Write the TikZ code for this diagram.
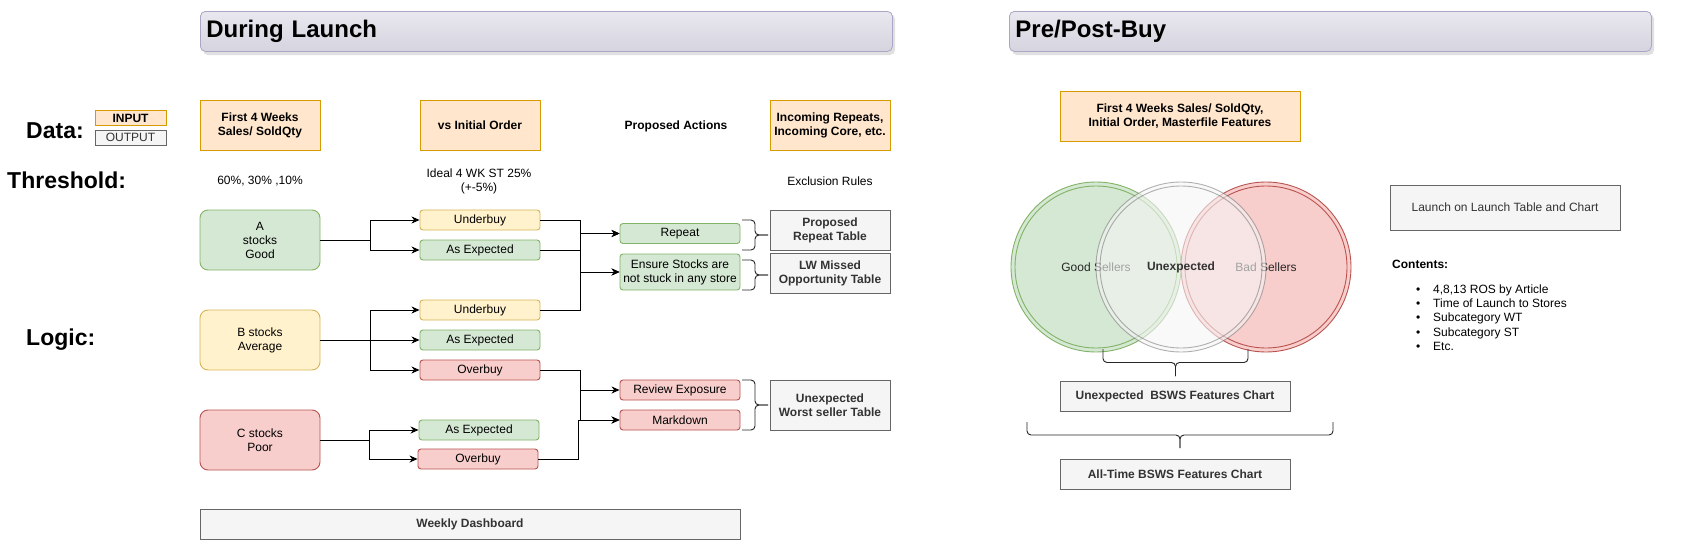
\documentclass[tikz,border=0pt]{standalone}
\usepackage{fontspec}
\setmainfont{Liberation Sans}
\usetikzlibrary{arrows.meta}
\definecolor{orgF}{HTML}{FFE6CC}\definecolor{orgS}{HTML}{D79B00}
\definecolor{grnF}{HTML}{D5E8D4}\definecolor{grnS}{HTML}{82B366}
\definecolor{ylwF}{HTML}{FFF2CC}\definecolor{ylwS}{HTML}{D6B656}
\definecolor{redF}{HTML}{F8CECC}\definecolor{redS}{HTML}{B85450}
\definecolor{gryF}{HTML}{F5F5F5}\definecolor{gryS}{HTML}{666666}\definecolor{gryT}{HTML}{333333}
\definecolor{hdrT}{HTML}{E9E8EF}\definecolor{hdrB}{HTML}{D5D4DF}\definecolor{hdrS}{HTML}{A9A7C6}
\newcommand\fnt{\fontsize{12}{14}\selectfont}
\newcommand\fbig{\fontsize{24}{28}\selectfont}
\newcommand\flbl{\fontsize{23}{27}\selectfont}
\newcommand\vbrc[4]{%
  \draw[brc] (#1,#2) -- ({(#1+#4)/2},#2) -- ({(#1+#4)/2},{(#2+#3)/2}) -- (#4,{(#2+#3)/2});
  \draw[brc] (#1,#3) -- ({(#1+#4)/2},#3) -- ({(#1+#4)/2},{(#2+#3)/2}) -- (#4,{(#2+#3)/2});}
\newcommand\hbrc[4]{%
  \draw[brc] (#2,#1) -- (#2,{(#1+#4)/2}) -- ({(#2+#3)/2},{(#1+#4)/2}) -- ({(#2+#3)/2},#4);
  \draw[brc] (#3,#1) -- (#3,{(#1+#4)/2}) -- ({(#2+#3)/2},{(#1+#4)/2}) -- ({(#2+#3)/2},#4);}
\begin{document}
\begin{tikzpicture}[x=1pt,y=-1pt,
  every node/.style={font=\fnt, inner sep=0pt, align=center},
  bx/.style={draw, line width=0.9pt, minimum width=120pt},
  org/.style={bx, fill=orgF, draw=orgS, font=\fnt\bfseries},
  gry/.style={bx, fill=gryF, draw=gryS, text=gryT, font=\fnt\bfseries},
  grn/.style={bx, fill=grnF, draw=grnS, rounded corners=3pt},
  ylw/.style={bx, fill=ylwF, draw=ylwS, rounded corners=3pt},
  rd/.style={bx, fill=redF, draw=redS, rounded corners=3pt},
  big/.style={rounded corners=8pt, minimum height=60pt},
  sm/.style={minimum height=20pt},
  lbl/.style={font=\flbl\bfseries, anchor=west},
  arr/.style={draw=black, line width=0.9pt, -{Stealth[length=8pt,width=7pt,inset=2.5pt]}},
  brc/.style={draw=black!85, line width=0.9pt, rounded corners=4pt},
  hdr/.style={draw=hdrS, line width=0.8pt, rounded corners=5pt, top color=hdrT, bottom color=hdrB,
    minimum height=40pt, align=left, font=\fbig\bfseries, anchor=north west},
  venn/.style={circle, minimum size=170pt, line width=0.9pt},
]
\useasboundingbox (0,0) rectangle (1701,541);
\fill[white] (0,0) rectangle (1701,541);

% headers
\fill[black!12, rounded corners=5pt] (203,14) rectangle (895,55);
\node[hdr, minimum width=692pt, text width=680pt] (hL) at (200,11) {During Launch};
\fill[black!12, rounded corners=5pt] (1012,14) rectangle (1654,55);
\node[hdr, minimum width=642pt, text width=630pt] (hR) at (1009,11) {Pre/Post-Buy};

% row labels
\node[lbl] (data) at (26,131) {Data:};
\node[lbl] (thr) at (7,180) {Threshold:};
\node[lbl] (logic) at (26,340) {Logic:};

\node[org, minimum width=71pt, minimum height=15pt] (inp) at (130.5,118) {INPUT};
\node[gry, font=\fnt, minimum width=71pt, minimum height=15pt] (outp) at (130.5,137.5) {OUTPUT};

% data row
\node[org, minimum height=50pt] (f4w) at (260,125) {First 4 Weeks\\Sales/ SoldQty};
\node[org, minimum height=50pt] (vio) at (480,125) {vs Initial Order};
\node[font=\fnt\bfseries] (pa) at (676,126) {Proposed Actions};
\node[org, minimum height=50pt] (inc) at (830,125) {Incoming Repeats,\\Incoming Core, etc.};

% thresholds
\node (thA) at (260,181) {60\%, 30\% ,10\%};
\node (thB) at (479,181) {Ideal 4 WK ST 25\%\\(+-5\%)};
\node (thC) at (830,181) {Exclusion Rules};

% logic
\node[grn, big] (A) at (260,240) {A\\stocks\\Good};
\node[ylw, big] (B) at (260,340) {B stocks\\Average};
\node[rd, big] (C) at (260,440) {C stocks\\Poor};

\node[ylw, sm] (u1) at (480,220) {Underbuy};
\node[grn, sm] (e1) at (480,250) {As Expected};
\node[ylw, sm] (u2) at (480,310) {Underbuy};
\node[grn, sm] (e2) at (480,340) {As Expected};
\node[rd, sm] (o2) at (480,370) {Overbuy};
\node[grn, sm] (e3) at (479,430) {As Expected};
\node[rd, sm] (o3) at (478,459) {Overbuy};

\node[grn, sm] (rep) at (680,233.5) {Repeat};
\node[grn, minimum height=36pt] (ens) at (680,272) {Ensure Stocks are\\not stuck in any store};
\node[rd, sm] (rev) at (680,390) {Review Exposure};
\node[rd, sm] (mkd) at (680,420) {Markdown};

\node[gry, minimum height=40pt] (prt) at (830,230) {Proposed\\Repeat Table};
\node[gry, minimum height=40pt] (lwm) at (830,273) {LW Missed\\Opportunity Table};
\node[gry, minimum height=50pt] (uws) at (830,405) {Unexpected\\Worst seller Table};
\node[gry, minimum width=540pt, minimum height=30pt] (wd) at (470,524) {Weekly Dashboard};

% connectors
\draw[arr] (A.east) -- ++(50,0) |- (u1.west);
\draw[arr] (A.east) -- ++(50,0) |- (e1.west);
\draw[arr] (B.east) -- ++(50,0) |- (u2.west);
\draw[arr] (B.east) -- (e2.west);
\draw[arr] (B.east) -- ++(50,0) |- (o2.west);
\draw[arr] (C.east) -- ++(49,0) |- (e3.west);
\draw[arr] (C.east) -- ++(49,0) |- (o3.west);

\draw[arr] (u1.east) -- ++(40,0) |- (rep.west);
\draw[arr] (e1.east) -- ++(40,0) |- (rep.west);
\draw[arr] (e1.east) -- ++(40,0) |- (ens.west);
\draw[arr] (u2.east) -- ++(40,0) |- (ens.west);
\draw[arr] (o2.east) -- ++(40,0) |- (rev.west);
\draw[arr] (o2.east) -- ++(40,0) |- (mkd.west);
\draw[arr] (o3.east) -- ++(40,0) |- (mkd.west);

% braces left
\vbrc{742}{220}{250}{768}
\vbrc{742}{260}{290}{768}
\vbrc{742}{380}{430}{768}

% right part
\node[org, minimum width=240pt, minimum height=50pt] (rf) at (1180,116) {First 4 Weeks Sales/ SoldQty,\\Initial Order, Masterfile Features};

\node[venn, fill=grnF, draw=grnS, text=black!85] (good) at (1096,267) {Good Sellers};
\draw[grnS, line width=0.9pt] (good.center) circle (81pt);
\node[venn, fill=redF, draw=redS, text=black!85] (bad) at (1266,267) {Bad Sellers};
\draw[redS, line width=0.9pt] (bad.center) circle (81pt);
\node[venn, fill=gryF, fill opacity=0.6, draw=gryS, draw opacity=0.5, text opacity=1, text=gryT, font=\fnt\bfseries] (unx) at (1181,267) {Unexpected};
\draw[gryS, draw opacity=0.5, line width=0.9pt] (unx.center) circle (81pt);

\hbrc{349}{1103}{1248}{376}
\node[gry, minimum width=230pt, minimum height=30pt] (ubf) at (1175,396) {Unexpected\ \ BSWS Features Chart};
\hbrc{422}{1027}{1333}{448}
\node[gry, minimum width=230pt, minimum height=30pt] (abf) at (1175,474) {All-Time BSWS Features Chart};

\node[gry, font=\fnt, minimum width=230pt, minimum height=45pt] (lol) at (1505,207.5) {Launch on Launch Table and Chart};
\node[anchor=west, font=\fnt\bfseries] (cont) at (1392,264) {Contents:};
\node[anchor=base west] (b1) at (1416,293.3) {\makebox[17pt][l]{\textbullet}4,8,13 ROS by Article};
\node[anchor=base west] (b2) at (1416,307.6) {\makebox[17pt][l]{\textbullet}Time of Launch to Stores};
\node[anchor=base west] (b3) at (1416,321.9) {\makebox[17pt][l]{\textbullet}Subcategory WT};
\node[anchor=base west] (b4) at (1416,336.2) {\makebox[17pt][l]{\textbullet}Subcategory ST};
\node[anchor=base west] (b5) at (1416,350.5) {\makebox[17pt][l]{\textbullet}Etc.};
\end{tikzpicture}
\end{document}
